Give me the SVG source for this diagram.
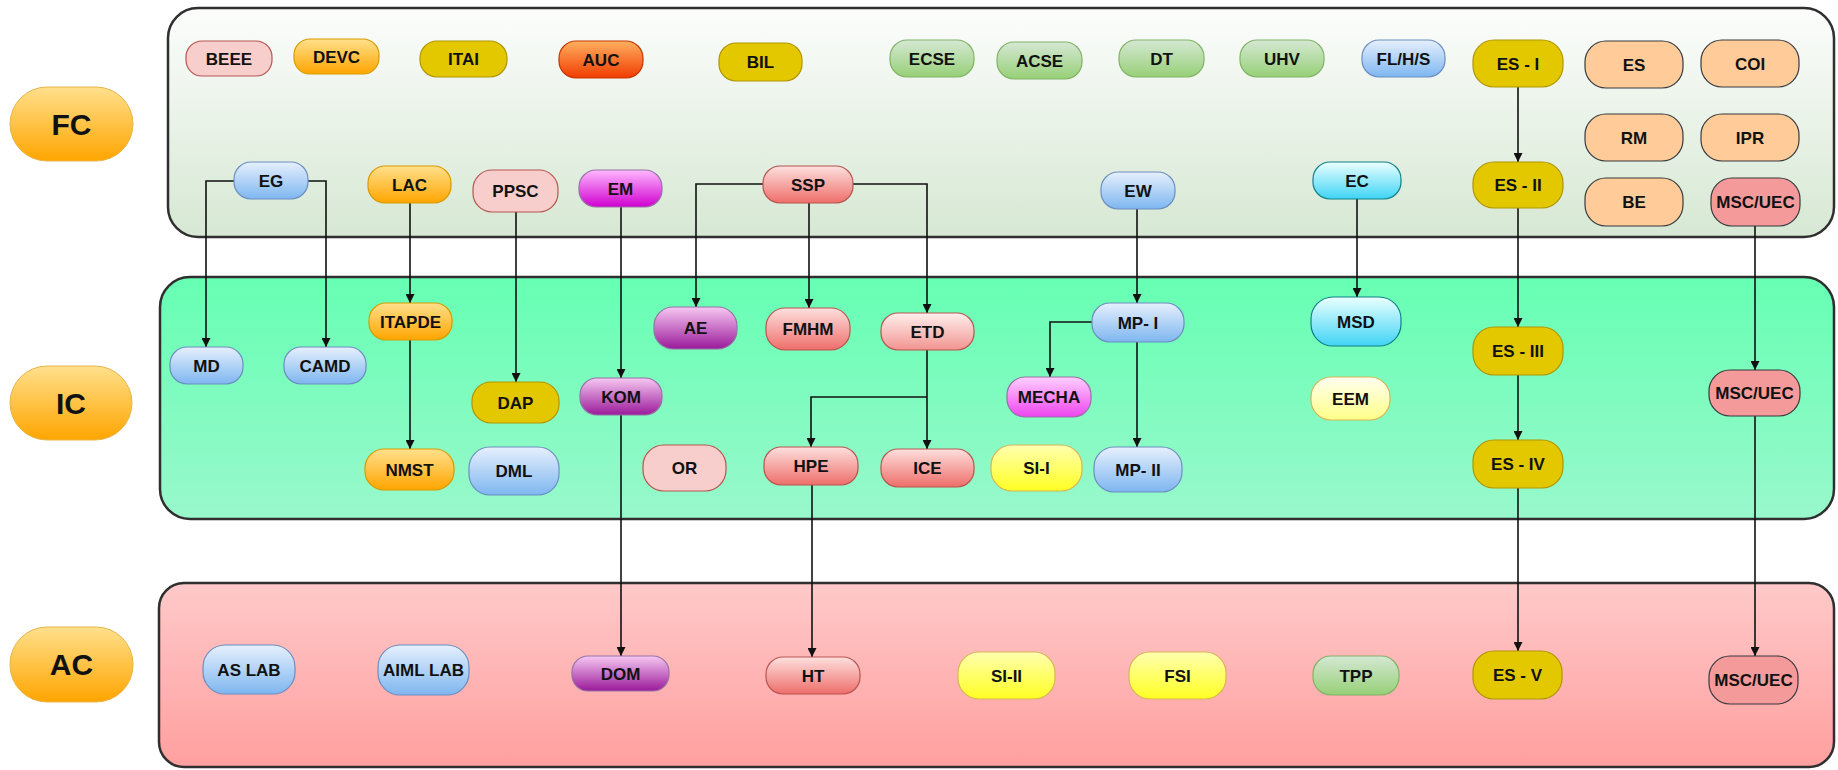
<svg xmlns="http://www.w3.org/2000/svg" width="1838" height="770" viewBox="0 0 1838 770">
<defs>
<linearGradient id="gFCbox" x1="0" y1="0" x2="0" y2="1"><stop offset="0" stop-color="#fcfdfc"/><stop offset="1" stop-color="#d6e8d3"/></linearGradient>
<linearGradient id="gICbox" x1="0" y1="0" x2="0" y2="1"><stop offset="0" stop-color="#66ffb3"/><stop offset="1" stop-color="#99f8cc"/></linearGradient>
<linearGradient id="gACbox" x1="0" y1="0" x2="0" y2="1"><stop offset="0" stop-color="#ffc9c9"/><stop offset="1" stop-color="#ff9f9f"/></linearGradient>
<linearGradient id="gOrange" x1="0" y1="0" x2="0" y2="1"><stop offset="0" stop-color="#ffe08c"/><stop offset="1" stop-color="#ffa500"/></linearGradient>
<linearGradient id="gBlue" x1="0" y1="0" x2="0" y2="1"><stop offset="0" stop-color="#e6f0fd"/><stop offset="1" stop-color="#7eb6f0"/></linearGradient>
<linearGradient id="gGreen" x1="0" y1="0" x2="0" y2="1"><stop offset="0" stop-color="#d5e8d4"/><stop offset="1" stop-color="#97d077"/></linearGradient>
<linearGradient id="gRed" x1="0" y1="0" x2="0" y2="1"><stop offset="0" stop-color="#fde0de"/><stop offset="1" stop-color="#ee6e6a"/></linearGradient>
<linearGradient id="gRedL" x1="0" y1="0" x2="0" y2="1"><stop offset="0" stop-color="#fff0ee"/><stop offset="1" stop-color="#f29490"/></linearGradient>
<linearGradient id="gMagenta" x1="0" y1="0" x2="0" y2="1"><stop offset="0" stop-color="#ffb8ff"/><stop offset="1" stop-color="#d000d0"/></linearGradient>
<linearGradient id="gMagL" x1="0" y1="0" x2="0" y2="1"><stop offset="0" stop-color="#ffd0ff"/><stop offset="1" stop-color="#ee44ee"/></linearGradient>
<linearGradient id="gPurple" x1="0" y1="0" x2="0" y2="1"><stop offset="0" stop-color="#f7c8f2"/><stop offset="1" stop-color="#9a1a9a"/></linearGradient>
<linearGradient id="gCyan" x1="0" y1="0" x2="0" y2="1"><stop offset="0" stop-color="#ebffff"/><stop offset="1" stop-color="#3fd4f5"/></linearGradient>
<linearGradient id="gYellow" x1="0" y1="0" x2="0" y2="1"><stop offset="0" stop-color="#ffffb0"/><stop offset="1" stop-color="#ffff22"/></linearGradient>
<linearGradient id="gYellowL" x1="0" y1="0" x2="0" y2="1"><stop offset="0" stop-color="#fffff0"/><stop offset="1" stop-color="#ffff88"/></linearGradient>
<linearGradient id="gAUC" x1="0" y1="0" x2="0" y2="1"><stop offset="0" stop-color="#ffb060"/><stop offset="1" stop-color="#f03c00"/></linearGradient>
<marker id="arr" viewBox="0 0 10 10" refX="10" refY="5" markerWidth="9" markerHeight="9" markerUnits="userSpaceOnUse" orient="auto"><path d="M0,0 L10,5 L0,10 Z" fill="#111"/></marker>
</defs>
<style>
.box{stroke:#2f2f2f;stroke-width:2.5}
.n rect{stroke-width:1.2}
.n text{font-family:"Liberation Sans",Arial,sans-serif;font-weight:bold;font-size:17px;fill:#111;text-anchor:middle}
.lbl text{font-family:"Liberation Sans",Arial,sans-serif;font-weight:bold;font-size:30px;fill:#111;text-anchor:middle}
.lbl rect{fill:url(#gOrange);stroke:#e8b44a;stroke-width:1}
.orange{fill:url(#gOrange);stroke:#d79b00}
.blue{fill:url(#gBlue);stroke:#6c8ebf}
.green{fill:url(#gGreen);stroke:#82b366}
.red{fill:url(#gRed);stroke:#b85450}
.redl{fill:url(#gRedL);stroke:#b85450}
.pink{fill:#f8cecc;stroke:#b85450}
.gold{fill:#e3c800;stroke:#b09500}
.peach{fill:#ffcc99;stroke:#36393d}
.msc{fill:#f49a9a;stroke:#36393d}
.mag{fill:url(#gMagenta);stroke:#9673a6}
.magl{fill:url(#gMagL);stroke:#9673a6}
.purple{fill:url(#gPurple);stroke:#9673a6}
.cyan{fill:url(#gCyan);stroke:#0e8088}
.yellow{fill:url(#gYellow);stroke:#d6b656}
.yellowl{fill:url(#gYellowL);stroke:#d6b656}
.auc{fill:url(#gAUC);stroke:#c73500}
.conn path{fill:none;stroke:#111;stroke-width:1.6;marker-end:url(#arr)}
</style>

<!-- containers -->
<g id="FC-container"><rect class="box" x="168" y="8" width="1666" height="229" rx="30" fill="url(#gFCbox)"/></g>
<g id="IC-container"><rect class="box" x="160" y="277" width="1674" height="242" rx="30" fill="url(#gICbox)"/></g>
<g id="AC-container"><rect class="box" x="159" y="583" width="1675" height="184" rx="25" fill="url(#gACbox)"/></g>

<!-- level labels -->
<g id="FC" class="lbl"><rect x="10" y="87" width="123" height="74" rx="37"/><text x="71.5" y="135">FC</text></g>
<g id="IC" class="lbl"><rect x="10" y="366" width="122" height="74" rx="37"/><text x="71" y="414">IC</text></g>
<g id="AC" class="lbl"><rect x="10" y="627" width="123" height="75" rx="37"/><text x="71.5" y="675">AC</text></g>

<!-- connectors -->
<g id="connectors" class="conn">
<path d="M234,181 H206 V347"/>
<path d="M308,181 H326 V347"/>
<path d="M410,203 V303"/>
<path d="M410,340 V449"/>
<path d="M516,212 V382"/>
<path d="M621,207 V378"/>
<path d="M621,415 V656"/>
<path d="M763,184 H696 V307"/>
<path d="M809,203 V308"/>
<path d="M853,184 H927 V313"/>
<path d="M927,350 V449"/>
<path d="M927,397 H811 V447"/>
<path d="M812,485 V657"/>
<path d="M1137,209 V303"/>
<path d="M1092,322 H1050 V377"/>
<path d="M1137,342 V447"/>
<path d="M1357,199 V297"/>
<path d="M1518,87 V162"/>
<path d="M1518,208 V327"/>
<path d="M1518,375 V440"/>
<path d="M1518,488 V651"/>
<path d="M1755,226 V370"/>
<path d="M1755,416 V656"/>
</g>

<!-- FC nodes -->
<g id="BEEE" class="n"><rect class="pink" x="186" y="41" width="86" height="35" rx="16"/><text x="229" y="64.5">BEEE</text></g>
<g id="DEVC" class="n"><rect class="orange" x="294" y="39" width="85" height="35" rx="16"/><text x="336.5" y="62.5">DEVC</text></g>
<g id="ITAI" class="n"><rect class="gold" x="420" y="41" width="87" height="36" rx="17"/><text x="463.5" y="64.5">ITAI</text></g>
<g id="AUC" class="n"><rect class="auc" x="559" y="41" width="84" height="37" rx="17"/><text x="601" y="65.5">AUC</text></g>
<g id="BIL" class="n"><rect class="gold" x="719" y="43" width="83" height="38" rx="17"/><text x="760.5" y="68">BIL</text></g>
<g id="ECSE" class="n"><rect class="green" x="890" y="40" width="84" height="37" rx="17"/><text x="932" y="64.5">ECSE</text></g>
<g id="ACSE" class="n"><rect class="green" x="997" y="42" width="85" height="37" rx="17"/><text x="1039.5" y="66.5">ACSE</text></g>
<g id="DT" class="n"><rect class="green" x="1119" y="40" width="85" height="37" rx="17"/><text x="1161.5" y="64.5">DT</text></g>
<g id="UHV" class="n"><rect class="green" x="1240" y="40" width="84" height="37" rx="17"/><text x="1282" y="64.5">UHV</text></g>
<g id="FLHS" class="n"><rect class="blue" x="1362" y="40" width="83" height="37" rx="17"/><text x="1403.5" y="64.5">FL/H/S</text></g>
<g id="ES-I" class="n"><rect class="gold" x="1473" y="40" width="90" height="47" rx="21"/><text x="1518" y="69.5">ES - I</text></g>
<g id="ES" class="n"><rect class="peach" x="1585" y="41" width="98" height="47" rx="21"/><text x="1634" y="70.5">ES</text></g>
<g id="COI" class="n"><rect class="peach" x="1701" y="40" width="98" height="47" rx="21"/><text x="1750" y="69.5">COI</text></g>
<g id="RM" class="n"><rect class="peach" x="1585" y="114" width="98" height="47" rx="21"/><text x="1634" y="143.5">RM</text></g>
<g id="IPR" class="n"><rect class="peach" x="1701" y="114" width="98" height="47" rx="21"/><text x="1750" y="143.5">IPR</text></g>
<g id="BE" class="n"><rect class="peach" x="1585" y="178" width="98" height="48" rx="21"/><text x="1634" y="208">BE</text></g>
<g id="MSCUEC-FC" class="n"><rect class="msc" x="1711" y="178" width="89" height="48" rx="21"/><text x="1755.5" y="208">MSC/UEC</text></g>
<g id="ES-II" class="n"><rect class="gold" x="1473" y="162" width="90" height="46" rx="21"/><text x="1518" y="191">ES - II</text></g>
<g id="EG" class="n"><rect class="blue" x="234" y="162" width="74" height="37" rx="17"/><text x="271" y="186.5">EG</text></g>
<g id="LAC" class="n"><rect class="orange" x="368" y="166" width="83" height="37" rx="17"/><text x="409.5" y="190.5">LAC</text></g>
<g id="PPSC" class="n"><rect class="pink" x="473" y="170" width="85" height="42" rx="19"/><text x="515.5" y="197">PPSC</text></g>
<g id="EM" class="n"><rect class="mag" x="579" y="170" width="83" height="37" rx="17"/><text x="620.5" y="194.5">EM</text></g>
<g id="SSP" class="n"><rect class="red" x="763" y="166" width="90" height="37" rx="17"/><text x="808" y="190.5">SSP</text></g>
<g id="EW" class="n"><rect class="blue" x="1101" y="172" width="74" height="37" rx="17"/><text x="1138" y="196.5">EW</text></g>
<g id="EC" class="n"><rect class="cyan" x="1313" y="162" width="88" height="37" rx="17"/><text x="1357" y="186.5">EC</text></g>

<!-- IC nodes -->
<g id="MD" class="n"><rect class="blue" x="170" y="347" width="73" height="37" rx="17"/><text x="206.5" y="371.5">MD</text></g>
<g id="CAMD" class="n"><rect class="blue" x="284" y="347" width="82" height="37" rx="17"/><text x="325" y="371.5">CAMD</text></g>
<g id="ITAPDE" class="n"><rect class="orange" x="369" y="303" width="83" height="37" rx="17"/><text x="410.5" y="327.5">ITAPDE</text></g>
<g id="DAP" class="n"><rect class="gold" x="472" y="382" width="87" height="41" rx="19"/><text x="515.5" y="408.5">DAP</text></g>
<g id="NMST" class="n"><rect class="orange" x="365" y="449" width="89" height="41" rx="19"/><text x="409.5" y="475.5">NMST</text></g>
<g id="DML" class="n"><rect class="blue" x="469" y="447" width="90" height="48" rx="21"/><text x="514" y="477">DML</text></g>
<g id="KOM" class="n"><rect class="purple" x="580" y="378" width="82" height="37" rx="17"/><text x="621" y="402.5">KOM</text></g>
<g id="AE" class="n"><rect class="purple" x="654" y="307" width="83" height="42" rx="19"/><text x="695.5" y="334">AE</text></g>
<g id="FMHM" class="n"><rect class="red" x="766" y="308" width="84" height="42" rx="19"/><text x="808" y="335">FMHM</text></g>
<g id="ETD" class="n"><rect class="redl" x="881" y="313" width="93" height="37" rx="17"/><text x="927.5" y="337.5">ETD</text></g>
<g id="MP-I" class="n"><rect class="blue" x="1092" y="303" width="92" height="39" rx="18"/><text x="1138" y="328.5">MP- I</text></g>
<g id="MECHA" class="n"><rect class="magl" x="1007" y="377" width="84" height="40" rx="18"/><text x="1049" y="403">MECHA</text></g>
<g id="MSD" class="n"><rect class="cyan" x="1311" y="297" width="90" height="49" rx="22"/><text x="1356" y="327.5">MSD</text></g>
<g id="EEM" class="n"><rect class="yellowl" x="1311" y="377" width="79" height="43" rx="20"/><text x="1350.5" y="404.5">EEM</text></g>
<g id="ES-III" class="n"><rect class="gold" x="1473" y="327" width="90" height="48" rx="21"/><text x="1518" y="357">ES - III</text></g>
<g id="MSCUEC-IC" class="n"><rect class="msc" x="1709" y="370" width="91" height="46" rx="21"/><text x="1754.5" y="399">MSC/UEC</text></g>
<g id="OR" class="n"><rect class="pink" x="643" y="445" width="83" height="46" rx="21"/><text x="684.5" y="474">OR</text></g>
<g id="HPE" class="n"><rect class="red" x="764" y="447" width="94" height="38" rx="17"/><text x="811" y="472">HPE</text></g>
<g id="ICE" class="n"><rect class="red" x="881" y="449" width="93" height="38" rx="17"/><text x="927.5" y="474">ICE</text></g>
<g id="SI-I" class="n"><rect class="yellow" x="991" y="445" width="91" height="46" rx="21"/><text x="1036.5" y="474">SI-I</text></g>
<g id="MP-II" class="n"><rect class="blue" x="1094" y="447" width="88" height="45" rx="20"/><text x="1138" y="475.5">MP- II</text></g>
<g id="ES-IV" class="n"><rect class="gold" x="1473" y="440" width="90" height="48" rx="21"/><text x="1518" y="470">ES - IV</text></g>

<!-- AC nodes -->
<g id="ASLAB" class="n"><rect class="blue" x="203" y="645" width="92" height="49" rx="22"/><text x="249" y="675.5">AS LAB</text></g>
<g id="AIMLLAB" class="n"><rect class="blue" x="378" y="645" width="91" height="50" rx="22"/><text x="423.5" y="676">AIML LAB</text></g>
<g id="DOM" class="n"><rect class="purple" x="572" y="656" width="97" height="35" rx="16"/><text x="620.5" y="679.5">DOM</text></g>
<g id="HT" class="n"><rect class="red" x="766" y="657" width="94" height="37" rx="17"/><text x="813" y="681.5">HT</text></g>
<g id="SI-II" class="n"><rect class="yellow" x="958" y="652" width="97" height="47" rx="21"/><text x="1006.5" y="681.5">SI-II</text></g>
<g id="FSI" class="n"><rect class="yellow" x="1129" y="652" width="97" height="47" rx="21"/><text x="1177.5" y="681.5">FSI</text></g>
<g id="TPP" class="n"><rect class="green" x="1313" y="656" width="86" height="39" rx="18"/><text x="1356" y="681.5">TPP</text></g>
<g id="ES-V" class="n"><rect class="gold" x="1473" y="651" width="89" height="48" rx="21"/><text x="1517.5" y="681">ES - V</text></g>
<g id="MSCUEC-AC" class="n"><rect class="msc" x="1709" y="656" width="89" height="48" rx="21"/><text x="1753.5" y="686">MSC/UEC</text></g>
</svg>
